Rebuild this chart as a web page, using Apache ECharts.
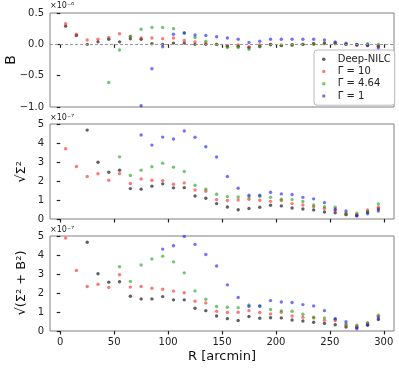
<!DOCTYPE html>
<html>
<head>
<meta charset="utf-8">
<script src="https://cdn.jsdelivr.net/npm/echarts@6/dist/echarts.min.js"></script>
<style>
  html, body { margin: 0; padding: 0; background: #fff; }
  #chart { width: 399px; height: 368px; }
</style>
</head>
<body>
<div id="chart"></div>
<script>
// radial bins [arcmin]
const radius = [5, 15, 25, 35, 45, 55, 65, 75, 85, 95, 105, 115, 125, 135, 145,
  155, 165, 175, 185, 195, 205, 215, 225, 235, 245, 255, 265, 275, 285, 295]
const seriesNames = ['Deep-NILC', 'Γ = 10', 'Γ = 4.64', 'Γ = 1']
const xTicks = [0, 50, 100, 150, 200, 250, 300]

// 上图 B (x1e-6)
const bDeep = [0.29, 0.14, 0.00, 0.04, 0.08, 0.04, 0.09, 0.08, 0.01, 0.00, 0.02, 0.02, 0.00, 0.00, 0.00,
  -0.03, -0.03, -0.05, -0.03, 0.00, -0.02, -0.01, 0.00, 0.01, 0.02, 0.02, 0.00, -0.01, -0.01, -0.03]
const bG10 = [0.33, 0.16, 0.07, 0.08, 0.11, 0.17, 0.12, 0.10, 0.10, 0.09, 0.10, 0.06, 0.04, 0.02, 0.00,
  -0.02, -0.01, -0.04, -0.01, 0.00, -0.01, 0.00, 0.00, 0.01, 0.02, 0.01, 0.00, -0.01, -0.01, -0.02]
const bG464 = [null, null, null, null, -0.61, -0.09, 0.13, 0.24, 0.27, 0.27, 0.25, 0.18, 0.11, 0.05, 0.00,
  -0.05, -0.05, -0.08, -0.04, -0.01, -0.02, -0.01, 0.00, 0.00, 0.01, 0.02, 0.00, 0.00, 0.01, 0.00]
const bG1 = [null, null, null, null, null, null, null, -0.98, -0.39, -0.04, 0.16, 0.18, 0.15, 0.14, 0.12,
  0.10, 0.08, 0.03, 0.05, 0.08, 0.08, 0.08, 0.08, 0.08, 0.07, 0.04, 0.02, 0.00, -0.02, -0.06]

// 中图 sqrt(Sigma^2) (x1e-7)
const sigDeep = [null, null, 4.68, 2.99, 2.46, 2.57, 1.60, 1.57, 1.73, 1.85, 1.64, 1.65, 1.21, 1.09, 0.81,
  0.63, 0.49, 0.55, 0.62, 0.72, 0.69, 0.58, 0.53, 0.48, 0.37, 0.33, 0.23, 0.19, 0.37, 0.53]
const sigG10 = [3.70, 2.76, 2.24, 2.38, 2.04, 2.39, 1.87, 2.11, 2.04, 2.02, 1.83, 1.90, 1.53, 1.46, 1.02,
  0.97, 1.00, 1.04, 0.99, 0.93, 0.97, 0.81, 0.74, 0.65, 0.55, 0.46, 0.26, 0.23, 0.48, 0.62]
const sigG464 = [null, null, null, null, null, 3.27, 2.29, 2.57, 2.75, 2.94, 2.73, 2.50, 1.78, 1.57, 1.30,
  1.18, 1.16, 1.16, 1.20, 1.14, 1.04, 1.02, 0.92, 0.74, 0.65, 0.62, 0.30, 0.30, 0.37, 0.79]
const sigG1 = [null, null, null, null, null, null, null, 4.42, 3.89, 4.31, 4.21, 4.63, 4.30, 3.80, 3.26,
  2.24, 1.62, 1.25, 1.25, 1.41, 1.32, 1.29, 1.14, 1.06, 0.86, 0.51, 0.42, 0.16, 0.28, 0.42]

// 下图 sqrt(Sigma^2 + B^2) (x1e-7)
const totDeep = [null, null, 4.67, 3.01, 2.57, 2.59, 1.83, 1.69, 1.69, 1.81, 1.64, 1.64, 1.20, 1.07, 0.79,
  0.65, 0.55, 0.76, 0.67, 0.70, 0.69, 0.58, 0.53, 0.46, 0.40, 0.33, 0.21, 0.19, 0.33, 0.60]
const totG10 = [4.89, 3.19, 2.34, 2.46, 2.29, 2.96, 2.31, 2.34, 2.25, 2.20, 2.10, 2.01, 1.57, 1.48, 1.04,
  0.97, 0.99, 1.07, 0.97, 0.90, 0.99, 0.79, 0.72, 0.69, 0.56, 0.55, 0.30, 0.25, 0.44, 0.77]
const totG464 = [null, null, null, null, null, 3.38, 2.61, 3.47, 3.79, 3.94, 3.64, 3.06, 2.11, 1.67, 1.29,
  1.25, 1.23, 1.37, 1.30, 1.13, 1.06, 1.04, 0.88, 0.72, 0.69, 0.62, 0.37, 0.30, 0.40, 0.83]
const totG1 = [null, null, null, null, null, null, null, null, null, 4.31, 4.49, 4.98, 4.56, 4.03, 3.42,
  2.43, 1.76, 1.30, 1.32, 1.60, 1.53, 1.50, 1.39, 1.32, 1.07, 0.65, 0.49, 0.12, 0.30, 0.69]

const colors = ['rgba(0,0,0,0.78)', 'rgba(255,20,20,0.72)', 'rgba(20,160,20,0.75)', 'rgba(20,20,255,0.75)']
const font = 'DejaVu Sans'

const myChart = echarts.init(document.getElementById('chart'), null, { renderer: 'canvas' })

const pairs = vals => radius.map((r, i) => [r, vals[i] === null ? '-' : vals[i]])

const panels = [
  [bDeep, bG10, bG464, bG1],
  [sigDeep, sigG10, sigG464, sigG1],
  [totDeep, totG10, totG464, totG1]
]

const grids = [
  { left: 50, top: 13, width: 344, height: 94 },
  { left: 50, top: 124, width: 344, height: 95 },
  { left: 50, top: 236, width: 344, height: 95 }
].map(g => Object.assign(g, { show: true, borderColor: '#808080', borderWidth: 1, backgroundColor: 'transparent' }))

const xAxes = [0, 1, 2].map(i => ({
  type: 'value',
  gridIndex: i,
  min: -9.5,
  max: 309.5,
  splitLine: { show: false },
  axisLine: { show: false },
  axisTick: { show: true, length: 3.5, customValues: xTicks, lineStyle: { color: '#222', width: 1.2 } },
  axisLabel: { show: i === 2, customValues: xTicks, margin: 6, color: '#222', fontSize: 10, fontFamily: font }
}))

const yAxes = [0, 1, 2].map(i => ({
  type: 'value',
  gridIndex: i,
  min: i === 0 ? -1 : 0,
  max: i === 0 ? 0.5 : 5,
  interval: i === 0 ? 0.5 : 1,
  splitLine: { show: false },
  axisLine: { show: false },
  axisTick: { show: true, length: 3.5, lineStyle: { color: '#222', width: 1.2 } },
  axisLabel: {
    margin: 6, color: '#222', fontSize: 10, fontFamily: font,
    formatter: v => i === 0 ? v.toFixed(1).replace('-', '\u2212') : String(v)
  }
}))

const series = []
panels.forEach((group, p) => {
  group.forEach((vals, k) => {
    series.push({
      name: seriesNames[k],
      type: 'scatter',
      xAxisIndex: p,
      yAxisIndex: p,
      symbol: 'circle',
      symbolSize: 3.4,
      itemStyle: { color: colors[k] },
      data: pairs(vals),
      silent: true
    })
  })
})
// 零线
series[0].markLine = {
  silent: true,
  symbol: 'none',
  label: { show: false },
  lineStyle: { color: '#999', type: [3, 2], width: 1 },
  data: [{ yAxis: 0 }]
}

const textEl = (text, x, y, size, rot) => ({
  type: 'text',
  x: x,
  y: y,
  rotation: rot || 0,
  style: { text: text, x: 0, y: 0, align: 'center', verticalAlign: 'middle', fontSize: size, fontFamily: font, fill: '#111' }
})

const option = {
  animation: false,
  backgroundColor: '#fff',
  grid: grids,
  xAxis: xAxes,
  yAxis: yAxes,
  legend: {
    data: seriesNames,
    orient: 'vertical',
    left: 314,
    top: 50,
    icon: 'circle',
    itemWidth: 12,
    itemHeight: 3.5,
    itemGap: 0,
    padding: [3, 4, 3, 8],
    backgroundColor: '#fff',
    borderColor: '#bbb',
    borderWidth: 1,
    borderRadius: 3,
    z: 10,
    textStyle: { fontSize: 10, fontFamily: font, color: '#222', lineHeight: 12.3, padding: [0, 0, 0, 3] }
  },
  graphic: [
    textEl('B', 11, 60, 14, Math.PI / 2),
    textEl('√Σ²', 22, 172, 13, Math.PI / 2),
    textEl('√(Σ² + B²)', 22, 283, 13, Math.PI / 2),
    textEl('R [arcmin]', 222, 357, 13),
    { type: 'text', x: 50, y: 2, style: { text: '×10⁻⁶', fontSize: 8, fontFamily: font, fill: '#222' } },
    { type: 'text', x: 50, y: 114, style: { text: '×10⁻⁷', fontSize: 8, fontFamily: font, fill: '#222' } },
    { type: 'text', x: 50, y: 226, style: { text: '×10⁻⁷', fontSize: 8, fontFamily: font, fill: '#222' } }
  ],
  series: series
}

myChart.setOption(option)
</script>
</body>
</html>
